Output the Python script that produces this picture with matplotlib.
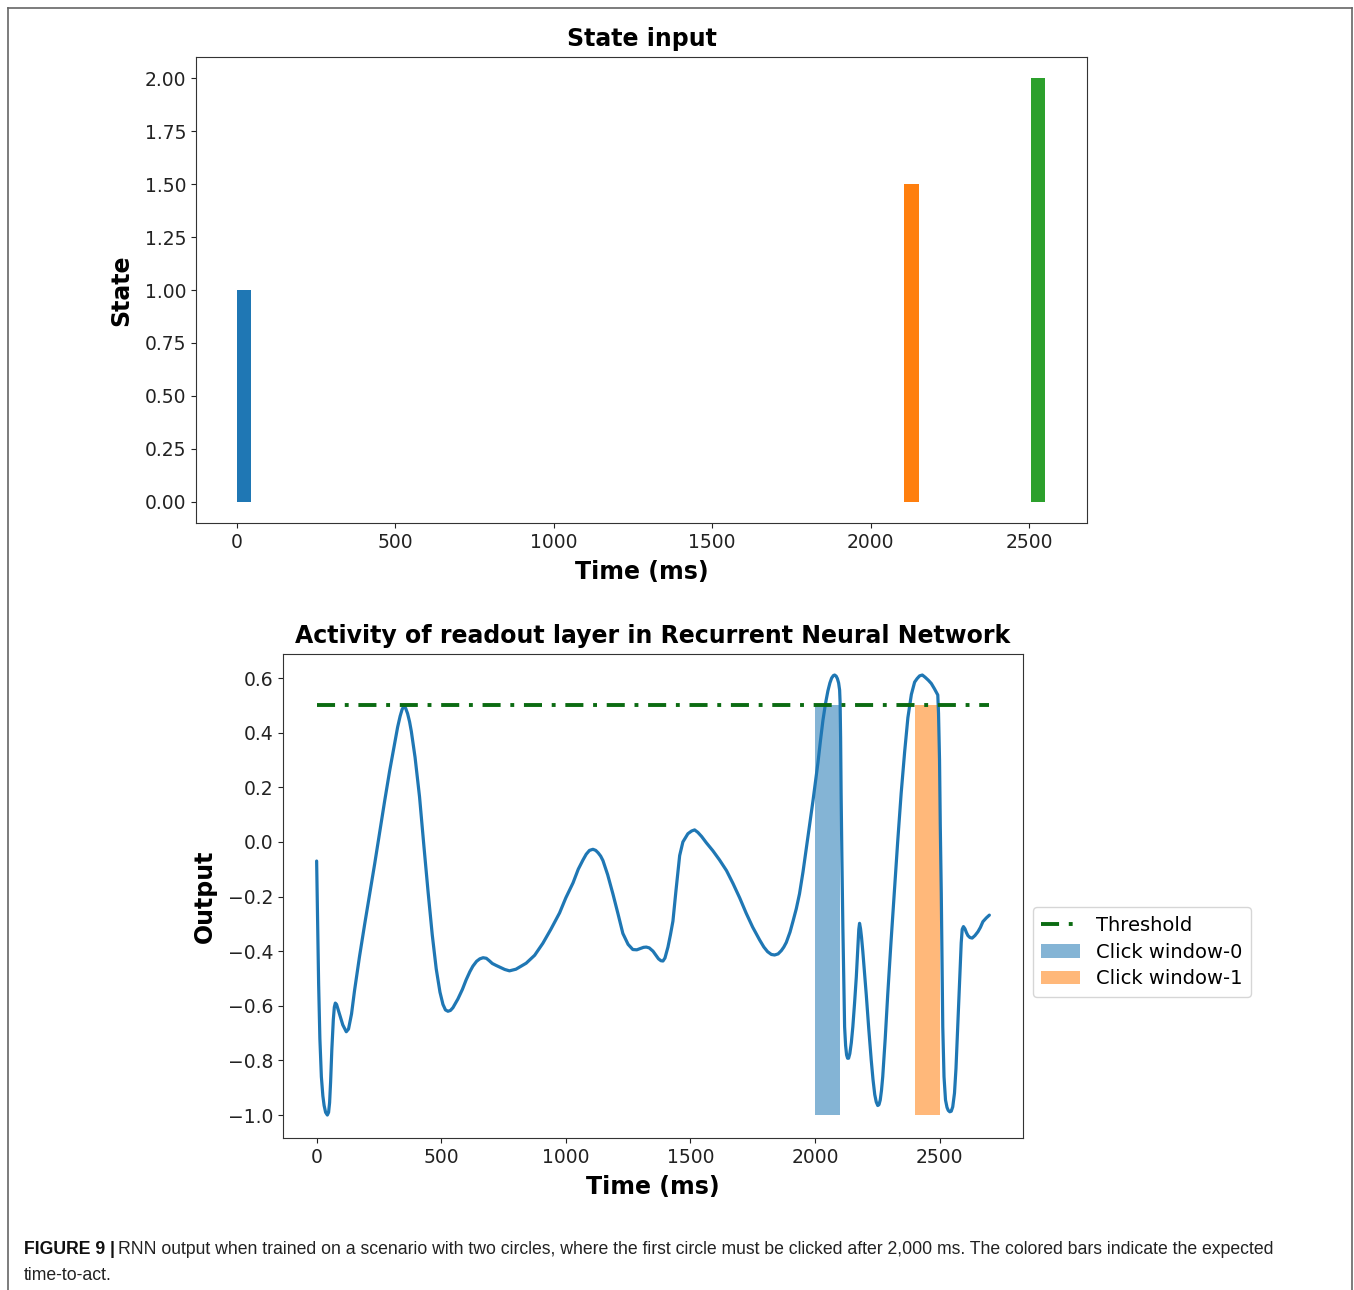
import matplotlib
matplotlib.use("Agg")
import matplotlib.pyplot as plt
from matplotlib.lines import Line2D
from matplotlib.patches import Patch
import matplotlib.font_manager as fm

# ---------------- data ----------------
state_times = [0, 2105, 2505]
state_values = [1.0, 1.5, 2.0]
state_colors = ["#1f77b4", "#ff7f0e", "#2ca02c"]

out_t = [0, 3, 8, 13, 19, 25, 30, 36, 43, 48, 52, 56,
         61, 67, 71, 75, 80, 90, 105, 119, 128, 140, 152,
         172, 193, 213, 233, 253, 273, 293, 313, 325,
         335, 343, 350, 357, 365, 373, 380, 395, 413,
         430, 447, 464, 480, 495, 507, 517, 527, 537, 547, 567, 585,
         600, 615, 627, 642, 655, 668, 681, 693, 705, 720, 734, 755, 774,
         800, 841, 875, 908, 940, 975, 1000, 1029, 1050,
         1069, 1082, 1095, 1109, 1120, 1130, 1140, 1149,
         1168, 1189, 1210, 1229, 1250, 1269, 1285, 1300, 1312, 1323, 1335, 1350, 1362,
         1372, 1382, 1390, 1398, 1410, 1420, 1430, 1442, 1457, 1470, 1490, 1505, 1517,
         1530, 1545, 1564, 1590, 1617, 1645, 1671, 1698, 1724, 1750, 1778,
         1795, 1810, 1825, 1838, 1852, 1865, 1875, 1885, 1900, 1912, 1925, 1938,
         1952, 1965, 1978, 1992, 2002, 2012, 2022, 2032, 2042, 2052,
         2060, 2067, 2074, 2079, 2085, 2090, 2095, 2099, 2101,
         2103, 2105, 2108, 2112, 2116, 2119, 2123, 2127, 2131, 2135, 2140,
         2146, 2152, 2159, 2166, 2172, 2176, 2179, 2183, 2187, 2192, 2199,
         2206, 2216, 2226, 2233, 2240, 2246, 2252, 2257, 2262, 2267, 2272, 2282, 2292,
         2305, 2319, 2332, 2346, 2360, 2373, 2387, 2400, 2410, 2420, 2431,
         2442, 2455, 2467, 2480, 2493,
         2496, 2500, 2503, 2507, 2510, 2513, 2518, 2524, 2530, 2535, 2541, 2547,
         2553, 2560, 2566, 2573, 2580, 2587, 2591, 2596, 2602, 2608, 2614, 2622,
         2631, 2642, 2654, 2664, 2674, 2688, 2700]
out_v = [-0.07, -0.24, -0.52, -0.72, -0.86, -0.93, -0.965, -0.99, -1.0, -0.99, -0.955, -0.88,
         -0.76, -0.65, -0.605, -0.59, -0.595, -0.625, -0.67, -0.695, -0.685, -0.63, -0.545,
         -0.42, -0.30, -0.19, -0.08, 0.035, 0.15, 0.26, 0.36, 0.42,
         0.46, 0.485, 0.497, 0.49, 0.47, 0.44, 0.405, 0.31, 0.165,
         -0.01, -0.18, -0.34, -0.465, -0.55, -0.595, -0.615, -0.62, -0.617, -0.607, -0.575, -0.54,
         -0.505, -0.475, -0.455, -0.437, -0.428, -0.424, -0.426, -0.435, -0.445, -0.452, -0.458, -0.467, -0.472,
         -0.466, -0.444, -0.415, -0.371, -0.32, -0.26, -0.205, -0.15, -0.1,
         -0.066, -0.045, -0.031, -0.027, -0.031, -0.04, -0.052, -0.068,
         -0.12, -0.19, -0.265, -0.335, -0.375, -0.394, -0.395, -0.39, -0.386, -0.385, -0.388, -0.40, -0.415,
         -0.428, -0.435, -0.436, -0.425, -0.385, -0.34, -0.29, -0.18, -0.05, 0.0, 0.03, 0.04, 0.044,
         0.035, 0.02, -0.003, -0.032, -0.066, -0.105, -0.152, -0.205, -0.261, -0.312, -0.359,
         -0.385, -0.402, -0.412, -0.414, -0.41, -0.398, -0.385, -0.368, -0.33, -0.29, -0.245, -0.19,
         -0.11, -0.025, 0.06, 0.15, 0.22, 0.29, 0.37, 0.445, 0.505, 0.553,
         0.582, 0.6, 0.609, 0.611, 0.607, 0.598, 0.582, 0.556, 0.51,
         0.38, 0.178, -0.05, -0.31, -0.53, -0.677, -0.745, -0.78, -0.792, -0.792, -0.775,
         -0.735, -0.677, -0.59, -0.494, -0.39, -0.32, -0.298, -0.318, -0.35, -0.4, -0.48,
         -0.56, -0.685, -0.8, -0.87, -0.925, -0.952, -0.965, -0.962, -0.945, -0.91, -0.86, -0.72, -0.56,
         -0.37, -0.18, 0.0, 0.178, 0.33, 0.455, 0.54, 0.585, 0.598, 0.608, 0.611,
         0.603, 0.592, 0.58, 0.56, 0.538,
         0.47, 0.30, 0.06, -0.188, -0.45, -0.677, -0.86, -0.945, -0.972, -0.983, -0.988, -0.986,
         -0.97, -0.92, -0.83, -0.677, -0.52, -0.37, -0.32, -0.31, -0.318, -0.332, -0.343, -0.35,
         -0.352, -0.343, -0.329, -0.313, -0.292, -0.278, -0.268]

threshold = 0.5
threshold_span = [0, 2700]
window_start = [2000, 2400]
window_end = [2100, 2500]
window_labels = ["Click window-0", "Click window-1"]
window_bottom = -1.0

caption_bold = "FIGURE 9 |"
caption_line1 = ("RNN output when trained on a scenario with two circles, where the first circle "
                 "must be clicked after 2,000 ms. The colored bars indicate the expected")
caption_line2 = "time-to-act."

# ---------------- figure ----------------
plt.rcParams["font.family"] = ["DejaVu Sans"]
plt.rcParams["lines.scale_dashes"] = False
W, H = 1354, 1290
fig = plt.figure(figsize=(W / 100, H / 100), dpi=100)
fig.patch.set_facecolor("white")

def ax_rect(l, t, r, b):
    return [l / W, 1 - b / H, (r - l) / W, (b - t) / H]

# Top axes
ax1 = fig.add_axes(ax_rect(196, 57, 1087, 523))
ax1.bar(state_times, state_values, width=47, align="edge", color=state_colors)
ax1.set_ylim(-0.1, 2.1)
ax1.set_xlim(-128, 2683)
yt1 = [0, 0.25, 0.5, 0.75, 1.0, 1.25, 1.5, 1.75, 2.0]
ax1.set_yticks(yt1)
ax1.set_yticklabels([f"{v:.2f}" for v in yt1])
ax1.set_xticks([0, 500, 1000, 1500, 2000, 2500])
ax1.set_title("State input", fontsize=17, fontweight="bold", pad=8)
ax1.set_xlabel("Time (ms)", fontsize=17, fontweight="bold", labelpad=6)
ax1.set_ylabel("State", fontsize=17, fontweight="bold", labelpad=8)
ax1.tick_params(labelsize=13.5, colors="#222222")

# Bottom axes
ax2 = fig.add_axes(ax_rect(283, 654, 1023, 1138))
ax2.plot(out_t, out_v, color="#1f77b4", lw=2.3, zorder=3,
         solid_joinstyle="round", solid_capstyle="round")
ax2.plot(threshold_span, [threshold, threshold], color="#0b6b12", lw=2.8,
         dashes=(13, 7, 2.8, 7), zorder=4)
win_colors = ["#1f77b4", "#ff7f0e"]
for s, e, c in zip(window_start, window_end, win_colors):
    ax2.bar(s, threshold - window_bottom, width=e - s, bottom=window_bottom,
            align="edge", color=c, alpha=0.55, zorder=2)
ax2.set_ylim(-1.084, 0.688)
ax2.set_xlim(-135, 2835)
ax2.set_xticks([0, 500, 1000, 1500, 2000, 2500])
ax2.set_yticks([-1.0, -0.8, -0.6, -0.4, -0.2, 0.0, 0.2, 0.4, 0.6])
ax2.set_yticklabels(["\u22121.0", "\u22120.8", "\u22120.6", "\u22120.4", "\u22120.2",
                     "0.0", "0.2", "0.4", "0.6"])
ax2.set_title("Activity of readout layer in Recurrent Neural Network", fontsize=17,
              fontweight="bold", pad=8)
ax2.set_xlabel("Time (ms)", fontsize=17, fontweight="bold", labelpad=6)
ax2.set_ylabel("Output", fontsize=17, fontweight="bold", labelpad=8)
ax2.tick_params(labelsize=13.5, colors="#222222")

handles = [Line2D([0], [0], color="#0b6b12", lw=2.8, dashes=(13, 7, 2.8, 7)),
           Patch(facecolor="#1f77b4", alpha=0.55),
           Patch(facecolor="#ff7f0e", alpha=0.55)]
ax2.legend(handles, ["Threshold"] + window_labels, loc="center left",
           bbox_to_anchor=(1.0, 0.384), fontsize=14, frameon=True,
           handlelength=2.0, borderpad=0.45, labelspacing=0.4)

for ax in (ax1, ax2):
    for sp in ax.spines.values():
        sp.set_color("#333333")

# frame around figure
fig.add_artist(Line2D([8 / W, 8 / W], [0, 1 - 8 / H], color="#666666", lw=1.2))
fig.add_artist(Line2D([8 / W, 1352 / W], [1 - 8 / H, 1 - 8 / H], color="#666666", lw=1.2))
fig.add_artist(Line2D([1352 / W, 1352 / W], [0, 1 - 8 / H], color="#666666", lw=1.2))

# caption
names = {f.name for f in fm.fontManager.ttflist}
cap_fam = ["Liberation Sans Narrow"] if "Liberation Sans Narrow" in names else ["Liberation Sans"]
cap_fs = 12.7
y1 = 1 - 1250 / H
y2 = 1 - 1276 / H
tb = fig.text(24 / W, y1, caption_bold, fontsize=cap_fs, fontweight="bold",
              family=cap_fam, va="center", ha="left", color="#111111")
fig.canvas.draw()
bb = tb.get_window_extent(renderer=fig.canvas.get_renderer())
fig.text((bb.x1 + 3) / W, y1, caption_line1, fontsize=cap_fs, family=cap_fam,
         va="center", ha="left", color="#222222")
fig.text(24 / W, y2, caption_line2, fontsize=cap_fs, family=cap_fam,
         va="center", ha="left", color="#222222")

fig.savefig("out.png", dpi=100, facecolor="white")
